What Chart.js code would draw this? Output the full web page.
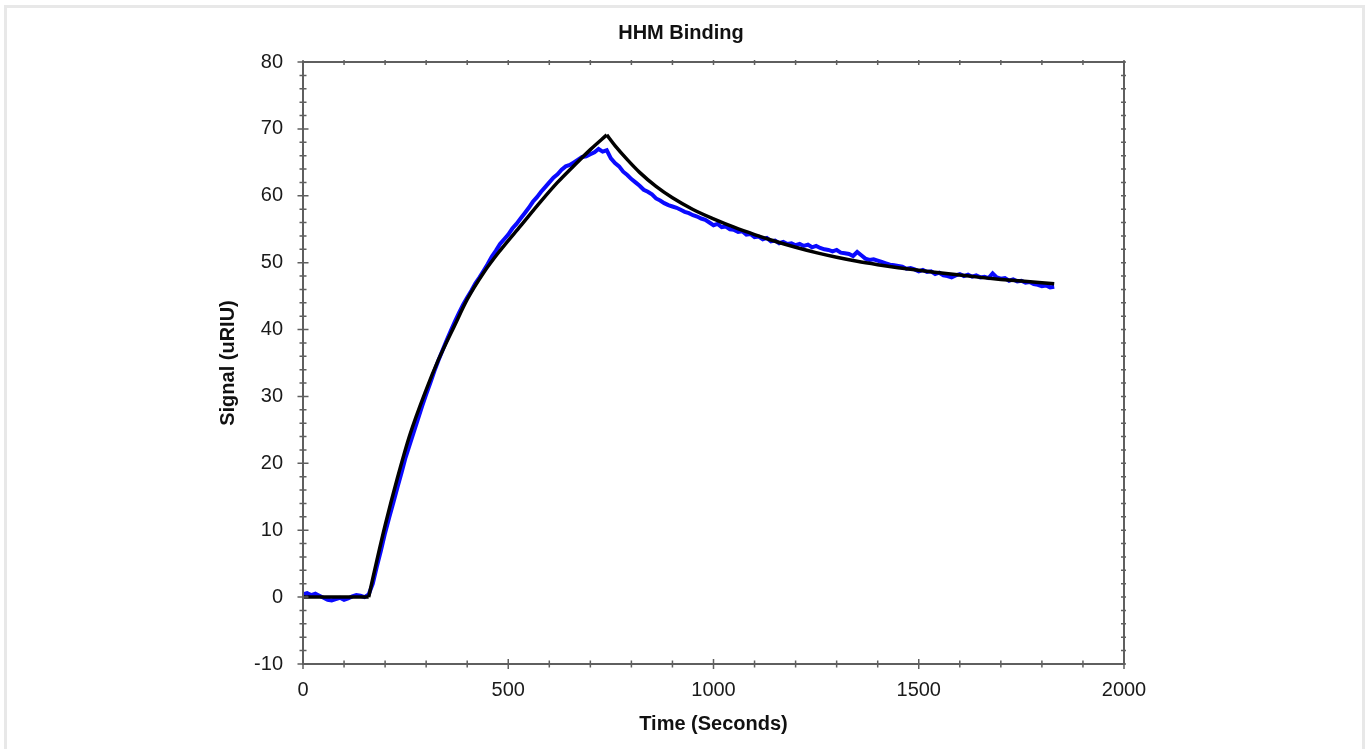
<!DOCTYPE html>
<html>
<head>
<meta charset="utf-8">
<script src="https://cdn.jsdelivr.net/npm/chart.js@4/dist/chart.umd.min.js"></script>
<style>
  html, body { margin: 0; padding: 0; background: #fff; overflow: hidden; }
  #frame { position: absolute; left: 4px; top: 5px; width: 1355px; height: 760px; border: 3px solid #e8e8e8; }
  #wrap { position: absolute; left: 0; top: 0; width: 1368px; height: 749px; }
</style>
</head>
<body>
<div id="frame"></div>
<div id="wrap"><canvas id="binding" width="1368" height="749"></canvas></div>
<script>
// measured signal, one reading every 10 s starting at t = 0
const sampleStep = 10
const signal = [
  0.4, 0.6, 0.3, 0.5, 0.2, -0.1, -0.4, -0.5, -0.3, -0.1,
  -0.4, -0.2, 0.1, 0.3, 0.2, 0.0, 0.4, 2.0, 4.6, 7.0,
  9.6, 11.9, 14.1, 16.4, 18.6, 20.9, 22.8, 24.7, 26.6, 28.5,
  30.3, 32.0, 33.8, 35.4, 36.9, 38.4, 39.8, 41.2, 42.5, 43.7,
  44.8, 45.8, 46.9, 47.8, 48.8, 49.8, 50.9, 51.8, 52.8, 53.5,
  54.2, 55.1, 55.8, 56.6, 57.4, 58.2, 59.1, 59.8, 60.6, 61.3,
  62.0, 62.7, 63.2, 63.9, 64.4, 64.6, 65.0, 65.4, 65.8, 65.9,
  66.2, 66.5, 67.0, 66.6, 66.8, 65.6, 64.9, 64.4, 63.6, 63.1,
  62.5, 62.0, 61.5, 60.9, 60.6, 60.2, 59.6, 59.3, 58.9, 58.6,
  58.4, 58.2, 57.9, 57.6, 57.4, 57.1, 56.9, 56.6, 56.4, 56.0,
  55.6, 55.8, 55.3, 55.4, 55.0, 54.9, 54.6, 54.7, 54.2, 54.3,
  53.8, 53.9, 53.5, 53.7, 53.2, 53.3, 52.9, 53.1, 52.8, 52.9,
  52.6, 52.8, 52.5, 52.7, 52.3, 52.5, 52.2, 52.0, 51.9, 51.7,
  51.9, 51.5, 51.4, 51.3, 51.0, 51.6, 51.1, 50.6, 50.4, 50.5,
  50.3, 50.1, 49.9, 49.7, 49.6, 49.5, 49.4, 49.1, 49.2, 49.0,
  48.7, 48.9, 48.6, 48.7, 48.3, 48.5, 48.1, 48.0, 47.8, 48.1,
  48.3, 48.0, 48.2, 47.9, 48.1, 47.8, 47.9, 47.7, 48.4, 47.8,
  47.6, 47.7, 47.3, 47.5, 47.2, 47.3, 47.0, 47.1, 46.8, 46.7,
  46.5, 46.6, 46.3, 46.4
]

// fitted curve, split at the injection start and at the end of association
const baseTime = [0, 160]
const baseFit = [0, 0]
const assocTime = [160, 170, 180, 200, 230, 260, 300, 330, 370, 400, 440, 480, 530, 580, 620, 660, 700, 740]
const assocFit = [0, 2.8, 5.5, 10.7, 17.8, 24.2, 31.0, 35.5, 40.7, 44.5, 48.5, 51.8, 55.5, 59.2, 62.0, 64.5, 66.9, 69.1]
const dissocTime = [740, 760, 790, 820, 860, 900, 950, 1000, 1050, 1100, 1150, 1200, 1250, 1300, 1350, 1400, 1450,
  1500, 1550, 1600, 1650, 1700, 1750, 1800, 1830]
const dissocFit = [69.1, 67.5, 65.4, 63.5, 61.4, 59.7, 57.95, 56.55, 55.3, 54.2, 53.2, 52.3, 51.5, 50.8, 50.2, 49.7, 49.25,
  48.85, 48.5, 48.15, 47.8, 47.5, 47.25, 47.0, 46.85]

const xMin = 0, xMax = 2000, xMajor = 500, xMinor = 100
const yMin = -10, yMax = 80, yMajor = 10, yMinor = 2

const fontFamily = 'Arial, "Liberation Sans", sans-serif'

const toPoints = (xs, ys) => xs.map((t, i) => ({ x: t, y: ys[i] }))

const fitLine = (label, xs, ys) => ({
  label,
  data: toPoints(xs, ys),
  borderColor: '#000000',
  borderWidth: 3.5,
  pointRadius: 0,
  cubicInterpolationMode: 'monotone',
  order: 0
})

const frameTicks = {
  id: 'frameTicks',
  afterDatasetsDraw(chart) {
    const { ctx, chartArea: a, scales: { x, y } } = chart
    ctx.save()
    ctx.strokeStyle = '#5f5f5f'
    ctx.lineWidth = 2
    ctx.strokeRect(a.left, a.top, a.width, a.height)
    ctx.lineWidth = 1.5
    ctx.beginPath()
    for (let v = xMin; v <= xMax; v += xMinor) {
      const px = x.getPixelForValue(v)
      const len = v % xMajor === 0 ? 5 : 3.5
      ctx.moveTo(px, a.bottom - len); ctx.lineTo(px, a.bottom + len)
      ctx.moveTo(px, a.top - 2); ctx.lineTo(px, a.top + 3)
    }
    for (let v = yMin; v <= yMax; v += yMinor) {
      const py = y.getPixelForValue(v)
      const len = v % yMajor === 0 ? 5.5 : 3.5
      ctx.moveTo(a.left - len, py); ctx.lineTo(a.left + len, py)
      ctx.moveTo(a.right - 3, py); ctx.lineTo(a.right + 2, py)
    }
    ctx.stroke()
    ctx.restore()
  }
}

new Chart(document.getElementById('binding'), {
  type: 'line',
  data: {
    datasets: [
      fitLine('Fit baseline', baseTime, baseFit),
      fitLine('Fit association', assocTime, assocFit),
      fitLine('Fit dissociation', dissocTime, dissocFit),
      {
        label: 'Signal',
        data: signal.map((v, i) => ({ x: i * sampleStep, y: v })),
        borderColor: '#0a0aff',
        borderWidth: 4,
        pointRadius: 0,
        tension: 0,
        order: 1
      }
    ]
  },
  options: {
    responsive: false,
    devicePixelRatio: 1,
    animation: false,
    layout: { padding: { left: 205, right: 211, top: 0, bottom: 0 } },
    plugins: {
      legend: { display: false },
      tooltip: { enabled: false },
      title: {
        display: true,
        text: 'HHM Binding',
        color: '#111',
        font: { family: fontFamily, size: 20, weight: 'bold' },
        padding: { top: 21, bottom: 17 }
      }
    },
    scales: {
      x: {
        type: 'linear',
        min: xMin,
        max: xMax,
        grid: { display: false, drawTicks: false },
        border: { display: false },
        ticks: {
          stepSize: xMajor,
          padding: 14,
          maxRotation: 0,
          color: '#1a1a1a',
          font: { family: fontFamily, size: 20 },
          callback: (v) => String(v)
        },
        title: {
          display: true,
          text: 'Time (Seconds)',
          color: '#111',
          font: { family: fontFamily, size: 20, weight: 'bold' },
          padding: { top: 0, bottom: 13 }
        },
        afterFit: (s) => { s.height = 85 }
      },
      y: {
        type: 'linear',
        min: yMin,
        max: yMax,
        grid: { display: false, drawTicks: false },
        border: { display: false },
        ticks: {
          stepSize: yMajor,
          padding: 20,
          color: '#1a1a1a',
          font: { family: fontFamily, size: 20 },
          callback: (v) => String(v)
        },
        title: {
          display: true,
          text: 'Signal (uRIU)',
          color: '#111',
          font: { family: fontFamily, size: 20, weight: 'bold' },
          padding: { top: 11, bottom: 0 }
        },
        afterFit: (s) => { s.width = 98 }
      },
      yRight: {
        type: 'linear',
        position: 'right',
        min: yMin,
        max: yMax,
        grid: { display: false, drawTicks: false },
        border: { display: false },
        ticks: { display: false },
        afterFit: (s) => { s.width = 33 }
      }
    }
  },
  plugins: [frameTicks]
})
</script>
</body>
</html>
